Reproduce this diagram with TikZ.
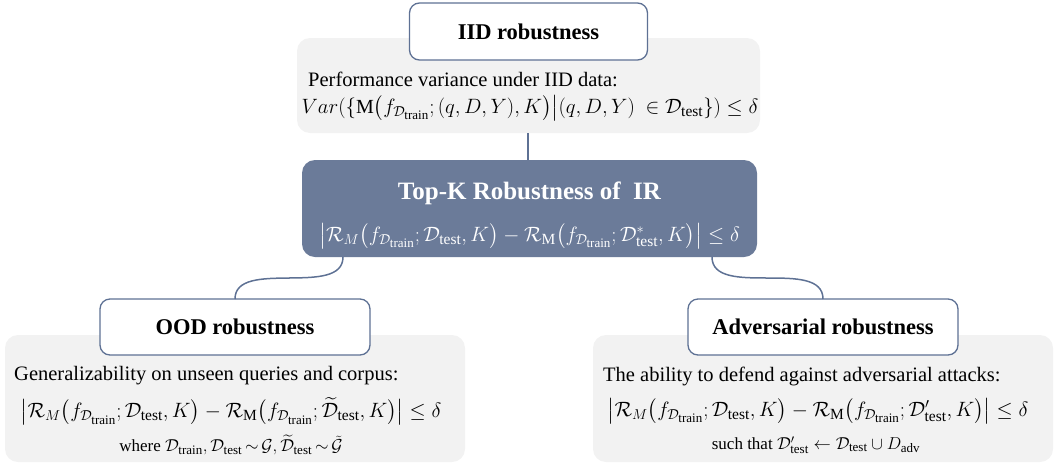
\documentclass[tikz,border=0pt]{standalone}
\usepackage{amsmath}
\usepackage{fontspec}
\setmainfont{Liberation Serif}
\DeclareMathSizes{20}{20}{15.5}{13}
\DeclareMathSizes{17}{17}{13}{11}
\definecolor{slate}{HTML}{6B7B99}
\definecolor{slateline}{HTML}{5E7194}
\definecolor{bggray}{HTML}{F2F2F2}
\tikzset{
  bgbox/.style={fill=bggray, rounded corners=13pt, inner sep=0pt},
  titlebox/.style={fill=white, draw=slateline, line width=1.3pt, rounded corners=10pt, inner sep=0pt, font=\fontsize{22.5}{26}\selectfont\bfseries},
  mainbox/.style={fill=slate, rounded corners=13pt, inner sep=0pt},
  conn/.style={draw=slateline, line width=1.5pt},
  desc/.style={inner sep=0pt, anchor=west, font=\fontsize{20.5}{24}\selectfont},
  formula/.style={inner sep=0pt, font=\fontsize{20}{24}\selectfont},
  note/.style={inner sep=0pt, font=\fontsize{17}{20}\selectfont},
}
\begin{document}
\begin{tikzpicture}[x=1pt,y=-1pt]
\useasboundingbox (0,0) rectangle (1063,464);
% IID
\node[bgbox, minimum width=463pt, minimum height=95pt] (iidbg) at (528.5,85.5) {};
\node[titlebox, minimum width=238pt, minimum height=57pt] (iidtitle) at (528.5,31.5) {IID robustness};
\node[desc] (iidtext) at (308,79) {Performance variance under IID data:};
\node[formula] (iidform) at (530,108) {$Var(\{\mathrm{M}\bigl(f_{\mathcal{D}_{\text{train}}};(q,D,Y),K\bigr)\big|(q,D,Y)\ \in\mathcal{D}_{\text{test}}\})\le\delta$};
% main
\node[mainbox, minimum width=455pt, minimum height=97pt] (main) at (529.5,208.5) {};
\node[inner sep=0pt, text=white, font=\fontsize{25}{30}\selectfont\bfseries] (maintitle) at (529.5,193) {Top-K Robustness of\ \ IR};
\node[formula, text=white] (mainform) at (529.5,236) {$\bigl|\mathcal{R}_M\bigl(f_{\mathcal{D}_{\text{train}}};\mathcal{D}_{\text{test}},K\bigr)-\mathcal{R}_{\mathrm{M}}\bigl(f_{\mathcal{D}_{\text{train}}};\mathcal{D}^{*}_{\text{test}},K\bigr)\bigr|\le\delta$};
% OOD
\node[bgbox, minimum width=460pt, minimum height=127pt] (oodbg) at (235,398.5) {};
\node[titlebox, minimum width=270pt, minimum height=56pt] (oodtitle) at (235,327) {OOD robustness};
\node[desc] (oodtext) at (14,376) {Generalizability on unseen queries and corpus:};
\node[formula] (oodform) at (231,411) {$\bigl|\mathcal{R}_M\bigl(f_{\mathcal{D}_{\text{train}}};\mathcal{D}_{\text{test}},K\bigr)-\mathcal{R}_{\mathrm{M}}\bigl(f_{\mathcal{D}_{\text{train}}};\widetilde{\mathcal{D}}_{\text{test}},K\bigr)\bigr|\le\delta$};
\node[note] (oodnote) at (231,445) {where $\mathcal{D}_{\text{train}},\mathcal{D}_{\text{test}}\,{\sim}\,\mathcal{G},\widetilde{\mathcal{D}}_{\text{test}}\,{\sim}\,\tilde{\mathcal{G}}$};
% Adversarial
\node[bgbox, minimum width=460pt, minimum height=127pt] (advbg) at (823,398.5) {};
\node[titlebox, minimum width=270pt, minimum height=56pt] (advtitle) at (823,327) {Adversarial robustness};
\node[desc] (advtext) at (603,376) {The ability to defend against adversarial attacks:};
\node[formula] (advform) at (818,411) {$\bigl|\mathcal{R}_M\bigl(f_{\mathcal{D}_{\text{train}}};\mathcal{D}_{\text{test}},K\bigr)-\mathcal{R}_{\mathrm{M}}\bigl(f_{\mathcal{D}_{\text{train}}};\mathcal{D}'_{\text{test}},K\bigr)\bigr|\le\delta$};
\node[note] (advnote) at (816,445) {such that $\mathcal{D}'_{\text{test}}\leftarrow\mathcal{D}_{\text{test}}\cup D_{\text{adv}}$};
% connectors
\coordinate (c1) at (528,133);
\draw[conn] (c1) -- (main.north -| c1);
\coordinate (l1) at (343,257);
\coordinate (l2) at (235,299);
\draw[conn] (l1) to[out=-90,in=90,looseness=0.9] (l2);
\coordinate (r1) at (712,257);
\coordinate (r2) at (823,299);
\draw[conn] (r1) to[out=-90,in=90,looseness=0.9] (r2);
\end{tikzpicture}
\end{document}
